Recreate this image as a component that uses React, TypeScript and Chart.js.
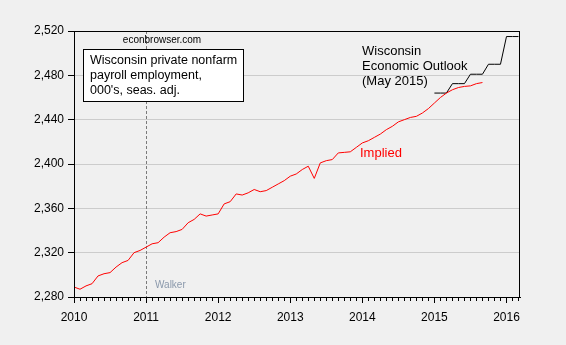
import React, { useEffect, useRef } from "react";
import { Chart, registerables } from "chart.js";

Chart.register(...registerables);

// Monthly, Jan 2010 .. Sep 2015 (thousands)
const impliedStartYear = 2010;
const impliedValues = [
  2289, 2287, 2290, 2292, 2299, 2301, 2302, 2307, 2311, 2313, 2320, 2322,
  2325, 2328, 2329, 2334, 2338, 2339, 2341, 2347, 2350, 2355, 2353, 2354,
  2355, 2364, 2366, 2373, 2372, 2374, 2377, 2375, 2376, 2379, 2382, 2385,
  2389, 2391, 2395, 2398, 2387, 2401, 2403, 2404, 2410, 2410.5, 2411, 2415,
  2419, 2421, 2424, 2427, 2431, 2434, 2438, 2440, 2442, 2443, 2446, 2450,
  2455, 2460, 2464, 2467, 2469, 2470, 2470.5, 2472.5, 2473.5,
];

// Quarterly forecast, 2015Q1 .. 2016Q1 (Wisconsin Economic Outlook, May 2015)
const outlookStartYear = 2015;
const outlookQuarterly = [2464, 2472.5, 2481, 2490, 2515];

const yTicks = [2280, 2320, 2360, 2400, 2440, 2480, 2520];
const xYears = [2010, 2011, 2012, 2013, 2014, 2015, 2016];
const xMin = 2010;
const xMax = 2016 + 2.25 / 12;
const walkerYear = 2011;

const FONT = "Arial, 'Liberation Sans', sans-serif";

export default function App() {
  const ref = useRef<HTMLCanvasElement | null>(null);

  useEffect(() => {
    document.body.style.margin = "0";
    const canvas = ref.current;
    if (!canvas) return;

    const impliedPts = impliedValues.map((v, i) => ({ x: impliedStartYear + i / 12, y: v }));
    const outlookPts: { x: number; y: number }[] = [];
    outlookQuarterly.forEach((v, q) => {
      for (let k = 0; k < 3; k++) {
        outlookPts.push({ x: outlookStartYear + (q * 3 + k) / 12, y: v });
      }
    });

    const decor = {
      id: "decor",
      beforeDatasetsDraw(chart: any) {
        const { ctx, chartArea, scales } = chart;
        const x = Math.round(scales.x.getPixelForValue(walkerYear)) + 0.5;
        ctx.save();
        ctx.strokeStyle = "#7a7a7a";
        ctx.lineWidth = 1;
        ctx.setLineDash([3, 2]);
        ctx.beginPath();
        ctx.moveTo(x, chartArea.top);
        ctx.lineTo(x, chartArea.bottom);
        ctx.stroke();
        ctx.restore();
      },
      afterDatasetsDraw(chart: any) {
        const { ctx, chartArea, scales } = chart;
        ctx.save();
        // plot frame
        ctx.strokeStyle = "#000";
        ctx.lineWidth = 1;
        ctx.strokeRect(
          Math.round(chartArea.left) + 0.5,
          Math.round(chartArea.top) + 0.5,
          Math.round(chartArea.right) - Math.round(chartArea.left) - 1,
          Math.round(chartArea.bottom) - Math.round(chartArea.top)
        );
        // monthly minor ticks
        const b = Math.round(chartArea.bottom);
        ctx.beginPath();
        for (let m = 0; m <= 74; m++) {
          if (m % 12 === 0) continue;
          const xv = xMin + m / 12;
          if (xv > xMax) break;
          const px = Math.round(scales.x.getPixelForValue(xv)) + 0.5;
          ctx.moveTo(px, b);
          ctx.lineTo(px, b + 4);
        }
        ctx.stroke();

        // econbrowser
        ctx.fillStyle = "#000";
        ctx.textBaseline = "middle";
        ctx.textAlign = "center";
        ctx.font = `10px ${FONT}`;
        ctx.fillText("econbrowser.com", 162, 40);

        // annotation box
        ctx.fillStyle = "#fff";
        ctx.fillRect(83.5, 49.5, 160, 52);
        ctx.strokeStyle = "#000";
        ctx.strokeRect(83.5, 49.5, 160, 52);
        ctx.fillStyle = "#000";
        ctx.textAlign = "left";
        ctx.font = `12.5px ${FONT}`;
        ctx.fillText("Wisconsin private nonfarm", 90, 61);
        ctx.fillText("payroll employment,", 90, 76);
        ctx.fillText("000's, seas. adj.", 90, 91);

        // outlook label
        ctx.font = `13px ${FONT}`;
        ctx.fillText("Wisconsin", 362, 51);
        ctx.fillText("Economic Outlook", 362, 66);
        ctx.fillText("(May 2015)", 362, 81);

        // implied
        ctx.fillStyle = "#ff0000";
        ctx.fillText("Implied", 360, 153);

        // walker
        ctx.fillStyle = "#8a98ab";
        ctx.font = `10px ${FONT}`;
        ctx.fillText("Walker", 155, 285);
        ctx.restore();
      },
    };

    const chart = new Chart(canvas, {
      type: "line",
      data: {
        datasets: [
          {
            label: "Implied",
            data: impliedPts,
            borderColor: "#ff0000",
            borderWidth: 1,
            pointRadius: 0,
            tension: 0,
          },
          {
            label: "Wisconsin Economic Outlook (May 2015)",
            data: outlookPts,
            borderColor: "#000000",
            borderWidth: 1,
            pointRadius: 0,
            tension: 0,
          },
        ],
      },
      options: {
        animation: false,
        responsive: false,
        maintainAspectRatio: false,
        layout: { padding: { left: 0, right: 46, top: 31, bottom: 0 } },
        plugins: { legend: { display: false }, tooltip: { enabled: false } },
        scales: {
          x: {
            type: "linear",
            min: xMin,
            max: xMax,
            afterFit(scale: any) {
              scale.height = 48;
            },
            afterBuildTicks(scale: any) {
              scale.ticks = xYears.map((v) => ({ value: v }));
            },
            ticks: {
              color: "#000",
              font: { family: FONT, size: 12 },
              padding: 7,
              maxRotation: 0,
              autoSkip: false,
              callback: (v: any) => String(v),
            },
            grid: {
              display: true,
              drawOnChartArea: false,
              drawTicks: true,
              tickLength: 6,
              tickColor: "#000",
              color: "#000",
            },
            border: { display: true, color: "#000" },
          },
          y: {
            min: 2280,
            max: 2520,
            afterFit(scale: any) {
              scale.width = 74;
            },
            afterBuildTicks(scale: any) {
              scale.ticks = yTicks.map((v) => ({ value: v }));
            },
            ticks: {
              color: "#000",
              font: { family: FONT, size: 12 },
              padding: 4,
              callback: (v: any) => Number(v).toLocaleString("en-US"),
            },
            grid: {
              color: "#cccccc",
              tickColor: "#000",
              tickLength: 6,
              drawTicks: true,
            },
            border: { display: true, color: "#000" },
          },
        },
      },
      plugins: [decor],
    } as any);

    return () => chart.destroy();
  }, []);

  return (
    <div style={{ position: "fixed", left: 0, top: 0, width: 566, height: 345, background: "#f0f0f0" }}>
      <canvas ref={ref} width={566} height={345} style={{ display: "block", width: 566, height: 345 }} />
    </div>
  );
}
